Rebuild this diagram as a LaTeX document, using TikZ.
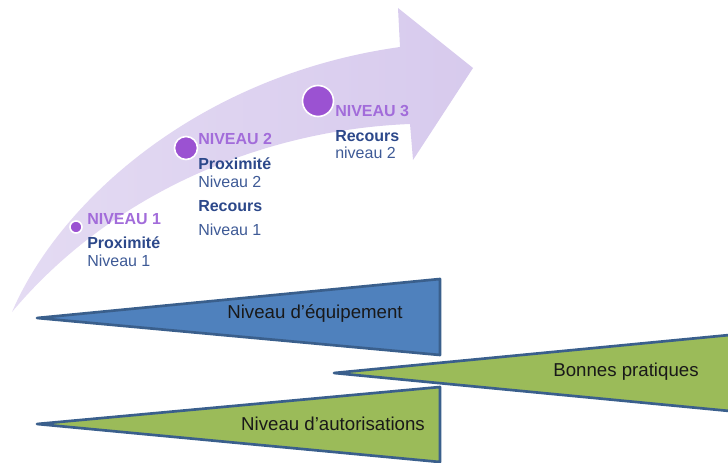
\documentclass[tikz,border=0pt]{standalone}
\usepackage{fontspec}
\setmainfont{Liberation Sans}
\usepackage{tikz}
\usetikzlibrary{positioning}
\definecolor{lavlight}{RGB}{228,219,243}
\definecolor{lavdark}{RGB}{215,202,237}
\definecolor{dotpurple}{RGB}{155,82,210}
\definecolor{headpurple}{RGB}{162,108,218}
\definecolor{boldblue}{RGB}{44,72,138}
\definecolor{textblue}{RGB}{62,90,150}
\definecolor{equipblue}{RGB}{79,129,189}
\definecolor{practgreen}{RGB}{155,187,89}
\definecolor{edgeblue}{RGB}{58,95,140}
\tikzset{
	dot/.style={circle, fill=dotpurple, draw=white, line width=1.2pt, inner sep=0pt},
	heading/.style={anchor=west, inner sep=0pt, text=headpurple, font=\fontsize{12}{14}\selectfont\bfseries},
	boldline/.style={anchor=west, inner sep=0pt, text=boldblue, font=\fontsize{12}{14}\selectfont\bfseries},
	plainline/.style={anchor=west, inner sep=0pt, text=textblue, font=\fontsize{12}{14}\selectfont},
	wedge/.style={draw=edgeblue, line width=2pt, line join=round},
	wedgetext/.style={inner sep=0pt, text=black!90, font=\fontsize{14}{16}\selectfont}
}

\begin{document}
\begin{tikzpicture}[x=0.75pt, y=-0.75pt]
		%%%%% START %%%%%
		\useasboundingbox (0, 0) rectangle (728, 463);
		
		% curved arrow
		\shade[left color=lavlight, right color=lavdark] (12, 312) .. controls (60, 200) and (200, 75) .. (400, 47)
			-- (398, 8) -- (473, 68) -- (413, 160) -- (410, 124)
			.. controls (260, 130) and (110, 195) .. (12, 312) -- cycle;
		
		% levels on the arrow
		\node[dot, minimum size=12pt*0.75] (dot1) at (76, 227) {};
		\node[dot, minimum size=23pt*0.75] (dot2) at (186, 148) {};
		\node[dot, minimum size=31pt*0.75] (dot3) at (318, 101) {};
		
		\node[heading] (niv1) at (87, 219) {NIVEAU 1};
		\node[boldline] (prox1) at (87, 243) {Proximité};
		\node[plainline] (nprox1) at (87, 261) {Niveau 1};
		
		\node[heading] (niv2) at (198, 139) {NIVEAU 2};
		\node[boldline] (prox2) at (198, 164) {Proximité};
		\node[plainline] (nprox2) at (198, 182) {Niveau 2};
		\node[boldline] (rec2) at (198, 206) {Recours};
		\node[plainline] (nrec2) at (198, 230) {Niveau 1};
		
		\node[heading] (niv3) at (335, 111) {NIVEAU 3};
		\node[boldline] (rec3) at (335, 136) {Recours};
		\node[plainline] (nrec3) at (335, 153) {niveau 2};
		
		% wedges
		\draw[wedge, fill=equipblue] (37, 318) -- (440, 279) -- (440, 355) -- cycle;
		\node[wedgetext] (equip) at (315, 314) {Niveau d’équipement};
		
		\draw[wedge, fill=practgreen] (334, 373) -- (740, 334) -- (740, 412) -- cycle;
		\node[wedgetext] (bonnes) at (626, 372) {Bonnes pratiques};
		
		\draw[wedge, fill=practgreen] (37, 424) -- (440, 387) -- (440, 462) -- cycle;
		\node[wedgetext] (autor) at (333, 424) {Niveau d’autorisations};
		%%%%% END %%%%%
	\end{tikzpicture}
\end{document}
